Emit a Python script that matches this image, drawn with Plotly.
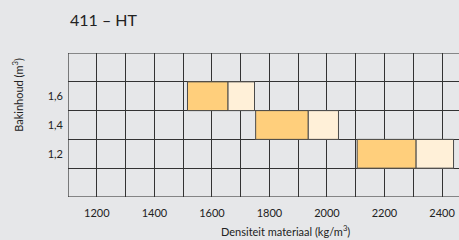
import plotly.graph_objects as go

# Data
volumes = [1.6, 1.4, 1.2]
volume_labels = ["1,6", "1,4", "1,2"]
range_start = [1515, 1752, 2105]   # start of dark band (kg/m3)
range_mid = [1656, 1935, 2310]     # end of dark / start of light band
range_end = [1748, 2040, 2440]     # end of light band
x_ticks = [1200, 1400, 1600, 1800, 2000, 2200, 2400]

DARK = "#FFCF7C"
LIGHT = "#FFF0D8"
BG = "#E6E7E9"
GRID = "#333333"

fig = go.Figure()
fig.add_trace(go.Bar(
    orientation="h", y=volumes,
    x=[m - s for s, m in zip(range_start, range_mid)], base=range_start,
    width=0.2, marker=dict(color=DARK, line=dict(color="#4a4a4a", width=1)),
    showlegend=False, hoverinfo="skip"))
fig.add_trace(go.Bar(
    orientation="h", y=volumes,
    x=[e - m for m, e in zip(range_mid, range_end)], base=range_mid,
    width=0.2, marker=dict(color=LIGHT, line=dict(color="#4a4a4a", width=1)),
    showlegend=False, hoverinfo="skip"))

# frame lines (top, bottom, left) drawn on the axes' scales
shapes = [
    dict(type="line", xref="x domain", yref="y", x0=0, x1=1, y0=1.9, y1=1.9,
         line=dict(color=GRID, width=1), layer="above"),
    dict(type="line", xref="x domain", yref="y", x0=0, x1=1, y0=0.9, y1=0.9,
         line=dict(color=GRID, width=1), layer="above"),
    dict(type="line", xref="x", yref="y domain", x0=1100, x1=1100, y0=0, y1=1,
         line=dict(color=GRID, width=1), layer="above"),
]

fig.update_layout(
    width=459, height=240,
    margin=dict(l=68, r=0, t=53, b=43, autoexpand=False),
    paper_bgcolor=BG, plot_bgcolor=BG,
    barmode="overlay",
    font=dict(family="Lato, sans-serif", size=11, color="#222222"),
    shapes=shapes,
    xaxis=dict(
        range=[1099.6, 2459], tickmode="array", tickvals=x_ticks,
        ticktext=[str(v) for v in x_ticks], automargin=False,
        showgrid=True, gridcolor=GRID, gridwidth=1, zeroline=False,
        ticks="", ticklabelstandoff=8,
        minor=dict(tickmode="array", tickvals=list(range(1100, 2500, 100)),
                   showgrid=True, gridcolor=GRID, gridwidth=1),
        showline=False, fixedrange=True),
    yaxis=dict(
        range=[0.8997, 1.9003], tickmode="array", tickvals=volumes,
        ticktext=volume_labels, showgrid=False, zeroline=False,
        ticks="", ticklabelstandoff=4, automargin=False,
        minor=dict(tickmode="array",
                   tickvals=[0.9, 1.1, 1.3, 1.5, 1.7, 1.9],
                   showgrid=True, gridcolor=GRID, gridwidth=1),
        showline=False, fixedrange=True),
    annotations=[
        dict(text="411 – HT", xref="paper", yref="paper", x=0, y=1,
             xanchor="left", yanchor="bottom", yshift=22, showarrow=False,
             font=dict(size=16, color="#222222")),
        dict(text="Bakinhoud (m<sup>3</sup>)", xref="paper", yref="paper",
             x=0, y=0.71, xshift=-50, textangle=-90, showarrow=False,
             xanchor="center", yanchor="middle",
             font=dict(size=11, color="#222222")),
        dict(text="Densiteit materiaal (kg/m<sup>3</sup>)", xref="x", yref="paper",
             x=1855, y=0, yshift=-33, showarrow=False,
             xanchor="center", yanchor="middle",
             font=dict(size=11, color="#222222")),
    ],
)

fig.write_html(
    "out.html",
    config={"displayModeBar": False, "staticPlot": True},
    post_script="document.body.style.margin='0';document.body.style.background='" + BG + "';",
)
